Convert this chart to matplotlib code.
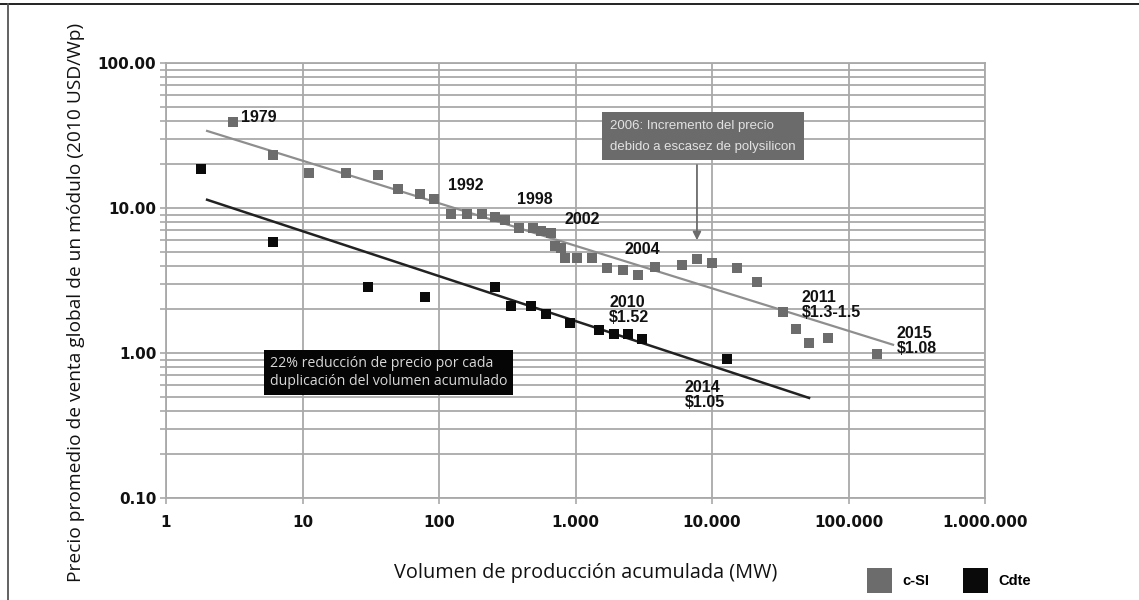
import matplotlib
matplotlib.use('Agg')
import matplotlib.pyplot as plt
from matplotlib.lines import Line2D

# c-Si (precios de modulos, USD/Wp 2010) vs volumen acumulado (MW)
csi_mw = [3.1, 6.1, 11.2, 20.8, 35.7, 50, 72.6, 92, 122, 160, 207, 257, 304, 385, 489, 559,
          661, 707, 783, 838, 1026, 1321, 1702, 2230, 2870, 3820, 6025, 7760, 10000, 15240,
          21380, 33100, 41200, 51400, 70700, 162000]
csi_price = [39.2, 23.2, 17.4, 17.4, 16.9, 13.5, 12.5, 11.5, 9.1, 9.1, 9.1, 8.67, 8.26, 7.28,
             7.28, 6.94, 6.73, 5.47, 5.3, 4.52, 4.52, 4.52, 3.86, 3.73, 3.45, 3.92, 4.04, 4.45,
             4.18, 3.86, 3.09, 1.92, 1.47, 1.17, 1.27, 0.98]

# CdTe
cdte_mw = [1.8, 6.1, 30.2, 79, 257, 337, 472, 608, 912, 1487, 1914, 2425, 3070, 12880]
cdte_price = [18.6, 5.83, 2.85, 2.43, 2.85, 2.11, 2.11, 1.86, 1.61, 1.44, 1.35, 1.35, 1.25, 0.91]

# lineas de tendencia (extremos)
csi_trend_mw = [2.0, 212000]
csi_trend_price = [34.0, 1.14]
cdte_trend_mw = [2.0, 51400]
cdte_trend_price = [11.4, 0.49]

# etiquetas de años
year_labels = ['1979', '1992', '1998', '2002', '2004', '2010\n$1.52', '2014\n$1.05',
               '2011\n$1.3-1.5', '2015\n$1.08']
year_x = [3.54, 158, 505, 1116, 3070, 1760, 6340, 45600, 226500]
year_y = [42.4, 14.2, 11.4, 8.27, 5.21, 1.98, 0.513, 2.14, 1.21]
year_ha = ['left', 'center', 'center', 'center', 'center', 'left', 'left', 'left', 'left']

x_ticks = [1, 10, 100, 1000, 10000, 100000, 1000000]
x_ticklabels = ['1', '10', '100', '1.000', '10.000', '100.000', '1.000.000']
y_ticks = [0.1, 1, 10, 100]
y_ticklabels = ['0.10', '1.00', '10.00', '100.00']

GRAY = '#6c6c6c'
GRID = '#a9a9a9'

fig = plt.figure(figsize=(11.39, 6.0), dpi=100)
ax = fig.add_axes([166 / 1139, 1 - 498 / 600, 819 / 1139, 435 / 600])

ax.set_xscale('log')
ax.set_yscale('log')
ax.set_xlim(1, 1e6)
ax.set_ylim(0.1, 100)

# rejilla
ax.grid(True, which='major', axis='both', color=GRID, linewidth=1.3)
ax.grid(True, which='minor', axis='y', color=GRID, linewidth=1.3)
ax.set_axisbelow(True)
for s in ax.spines.values():
    s.set_color(GRID)
    s.set_linewidth(1.3)

ax.set_xticks(x_ticks)
ax.set_xticklabels(x_ticklabels)
ax.set_yticks(y_ticks)
ax.set_yticklabels(y_ticklabels)
ax.xaxis.set_minor_locator(matplotlib.ticker.NullLocator())
ax.tick_params(axis='both', which='both', color=GRID, length=4, width=1.2)
ax.tick_params(axis='x', pad=8)
ax.tick_params(axis='y', pad=3)
ax.yaxis.set_minor_formatter(matplotlib.ticker.NullFormatter())
for lab in ax.get_xticklabels() + ax.get_yticklabels():
    lab.set_fontfamily('DejaVu Sans')
    lab.set_fontweight('bold')
    lab.set_fontsize(11)
    lab.set_color('#111111')

# tendencias
ax.plot(csi_trend_mw, csi_trend_price, color='#8e8e8e', linewidth=1.6, zorder=3)
ax.plot(cdte_trend_mw, cdte_trend_price, color='#222222', linewidth=1.8, zorder=3)

# puntos
ax.plot(csi_mw, csi_price, 's', color=GRAY, markersize=7.5, markeredgewidth=0, zorder=4)
ax.plot(cdte_mw, cdte_price, 's', color='#0a0a0a', markersize=7.5, markeredgewidth=0, zorder=4)

for t, x, y, ha in zip(year_labels, year_x, year_y, year_ha):
    ax.text(x, y, t, ha=ha, va='center', fontsize=11.5, fontweight='bold',
            family=['Liberation Sans', 'DejaVu Sans'], color='#111111',
            linespacing=0.95, zorder=5)

# recuadro gris + flecha
ax.text((610 - 166) / 819, (498 - 120) / 435,
        '2006: Incremento del precio\ndebido a escasez de polysilicon',
        transform=ax.transAxes, ha='left', va='top', fontsize=9.5,
        family=['Liberation Sans', 'DejaVu Sans'], color='#e2e2e2', linespacing=1.95,
        bbox=dict(boxstyle='square,pad=0.6', facecolor='#6b6b6b', edgecolor='none'), zorder=6)
ax.annotate('', xy=(7760, 6.0), xytext=(7760, 19.8),
            arrowprops=dict(arrowstyle='-|>', color='#6b6b6b', lw=1.3, mutation_scale=12,
                            shrinkA=0, shrinkB=0), zorder=6)

# recuadro negro
ax.text((270 - 166) / 819, (498 - 356) / 435,
        '22% reducción de precio por cada\nduplicación del volumen acumulado',
        transform=ax.transAxes, ha='left', va='top', fontsize=10.2,
        family=['Open Sans', 'DejaVu Sans'], color='#d8d8d8', linespacing=1.3,
        bbox=dict(boxstyle='square,pad=0.4', facecolor='#050505', edgecolor='none'), zorder=6)

# etiquetas de ejes
fig.text(76 / 1139, 1 - 302 / 600, 'Precio promedio de venta global de un módulo (2010 USD/Wp)',
         rotation=90, ha='center', va='center', fontsize=13.8,
         family=['Open Sans', 'DejaVu Sans'], color='#111111')
fig.text(586 / 1139, 1 - 573 / 600, 'Volumen de producción acumulada (MW)',
         ha='center', va='center', fontsize=14.3,
         family=['Open Sans', 'DejaVu Sans'], color='#111111')

# leyenda
handles = [Line2D([], [], marker='s', linestyle='none', color=GRAY, markersize=18, markeredgewidth=0),
           Line2D([], [], marker='s', linestyle='none', color='#0a0a0a', markersize=18, markeredgewidth=0)]
leg = fig.legend(handles, ['c-SI', 'Cdte'], loc='center', ncol=2, frameon=False,
                 bbox_to_anchor=(949 / 1139, 1 - 581 / 600), handletextpad=0.75,
                 columnspacing=2.25, handlelength=1.7,
                 prop=dict(family=['Liberation Sans', 'DejaVu Sans'], weight='bold', size=10.5))

# marco de la figura
fig.add_artist(Line2D([0, 1], [1 - 4 / 600, 1 - 4 / 600], color='#111111', linewidth=1.3,
                      transform=fig.transFigure))
fig.add_artist(Line2D([8 / 1139, 8 / 1139], [0, 1 - 4 / 600], color='#555555', linewidth=1.3,
                      transform=fig.transFigure))

fig.savefig('out.png', dpi=100)
